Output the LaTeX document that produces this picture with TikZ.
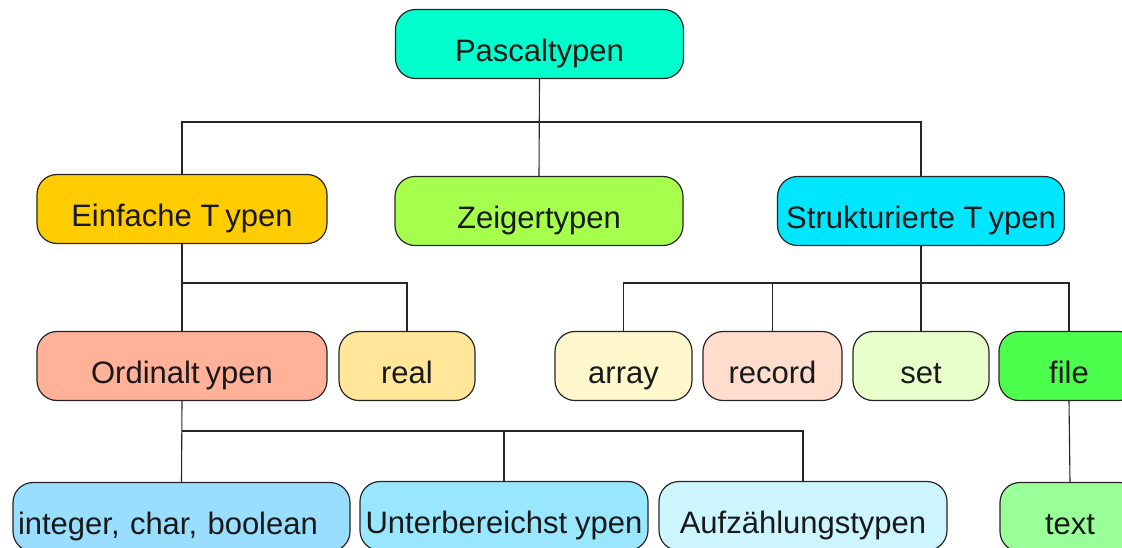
\documentclass[tikz,border=0pt]{standalone}
\usepackage{fontspec}
\setmainfont{Liberation Sans}
\definecolor{cPascal}{RGB}{0,255,204}
\definecolor{cEinfach}{RGB}{255,204,0}
\definecolor{cZeiger}{RGB}{166,255,77}
\definecolor{cStrukt}{RGB}{0,230,255}
\definecolor{cOrdinal}{RGB}{255,177,153}
\definecolor{cReal}{RGB}{255,230,153}
\definecolor{cArray}{RGB}{255,248,204}
\definecolor{cRecord}{RGB}{255,221,204}
\definecolor{cSet}{RGB}{232,255,204}
\definecolor{cFile}{RGB}{77,255,77}
\definecolor{cInteger}{RGB}{153,221,255}
\definecolor{cUnter}{RGB}{153,230,255}
\definecolor{cAufz}{RGB}{204,245,255}
\definecolor{cText}{RGB}{153,255,153}
\tikzset{
  typebox/.style={draw=black!85, line width=1.2pt, rounded corners=20pt,
    inner sep=0pt, text height=36pt, text depth=2pt,
    font=\fontsize{31}{36}\selectfont, text=black!90},
  wide/.style={typebox, minimum width=288pt, minimum height=69pt},
  small/.style={typebox, minimum width=137pt, minimum height=69pt},
  link/.style={draw=black!85, line width=1.1pt},
}
\begin{document}
\begin{tikzpicture}[x=1pt, y=-1pt]
\useasboundingbox (0,0) rectangle (1122,547);
\clip (0,0) rectangle (1122,547);

% level 0
\node[wide, fill=cPascal] (pascal) at (539.5,44) {Pascaltypen};

% level 1
\node[wide, minimum width=290pt, fill=cEinfach] (einf) at (182,209) {Einfache T\kern6pt ypen};
\node[wide, fill=cZeiger] (zeig) at (539,211) {Zeigertypen};
\node[wide, minimum width=287pt, fill=cStrukt] (strk) at (921,211) {Strukturierte T\kern6pt ypen};

% level 2
\node[wide, minimum width=290pt, fill=cOrdinal] (ord) at (182,366) {Ordinalt\kern6pt ypen};
\node[small, minimum width=136pt, fill=cReal] (real) at (407,366) {real};
\node[small, fill=cArray] (array) at (623.5,366) {array};
\node[small, minimum width=139pt, fill=cRecord] (record) at (772.5,366) {record};
\node[small, minimum width=136pt, fill=cSet] (set) at (921,366) {set};
\node[small, minimum width=140pt, fill=cFile] (file) at (1069,366) {file};

% level 3
\node[wide, minimum width=337pt, text width=327pt, align=left, fill=cInteger] (int) at (181.5,517) {integer, char, boolean};
\node[wide, fill=cUnter] (unter) at (504,516) {Unterbereichst\kern8pt ypen};
\node[wide, fill=cAufz] (aufz) at (803,516) {Aufzählungstypen};
\node[small, minimum width=140pt, fill=cText] (text) at (1070,517) {text};

% bus lines
\coordinate (bus0) at (539.5,122);
\coordinate (bus1) at (182,283);
\coordinate (bus2) at (921,283);
\coordinate (bus3) at (182,431);

\draw[link] (pascal.south) -- (zeig.north);
\draw[link] (einf.north) |- (bus0) -| (strk.north);

\draw[link] (einf.south) -- (ord.north);
\draw[link] (bus1) -| (real.north);

\draw[link] (strk.south) -- (set.north);
\draw[link] (array.north) |- (bus2) -| (file.north);
\draw[link] (record.north) -- (record.north |- bus2);

\draw[link] (ord.south) -- (int.north);
\draw[link] (bus3) -| (aufz.north);
\draw[link] (unter.north) -- (unter.north |- bus3);

\draw[link] (file.south) -- (text.north);
\end{tikzpicture}
\end{document}
